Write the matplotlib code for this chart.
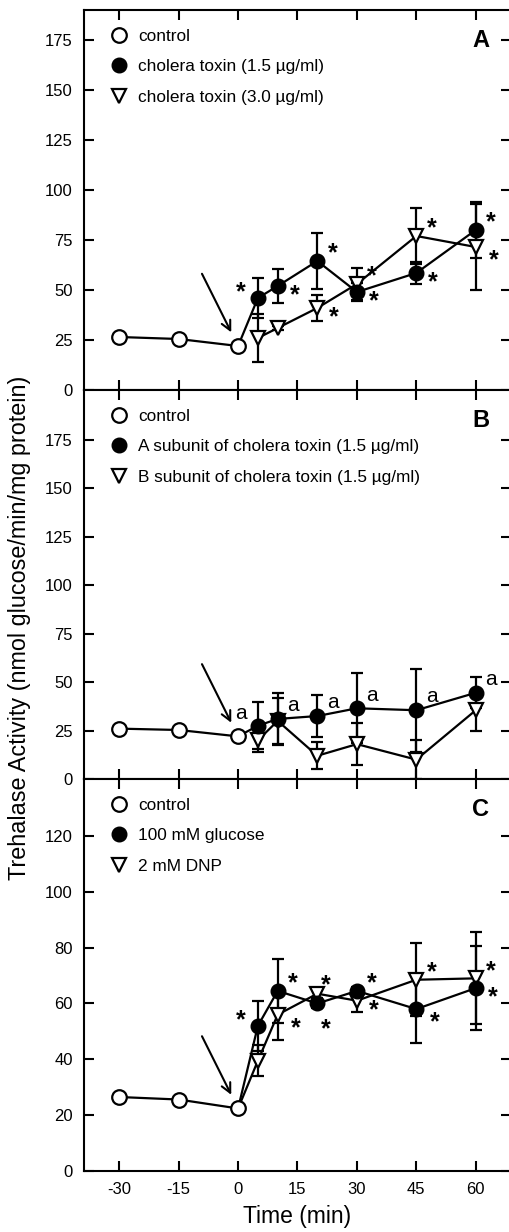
import matplotlib.pyplot as plt
from matplotlib.lines import Line2D
import numpy as np

plt.rcParams['font.family'] = ['Liberation Sans', 'DejaVu Sans']

# time points (min)
ctrl_t = [-30, -15, 0]
trt_t = [5, 10, 20, 30, 45, 60]
xticks = [-30, -15, 0, 15, 30, 45, 60]

# Panel A
a_ctrl = [26.5, 25.5, 22]
a_ct15 = [46, 52, 64.5, 49, 58.5, 80]
a_ct15_err = [10, 8.5, 14, 4.5, 5.5, 14]
a_ct30 = [26, 31, 41, 53, 77, 71.5]
a_ct30_err = [12, 1, 6.5, 8, 14, 21.5]
a_labels = ["control", "cholera toxin (1.5 \u00b5g/ml)", "cholera toxin (3.0 \u00b5g/ml)"]

# Panel B
b_ctrl = [26, 25.3, 22]
b_asub = [27.5, 31, 32.5, 36.5, 35.5, 44.5]
b_asub_err = [12, 13.5, 11, 18, 21.5, 8]
b_bsub = [20, 30, 12, 18, 10, 35.5]
b_bsub_err = [6, 12, 7, 11, 10, 10.5]
b_labels = ["control", "A subunit of cholera toxin (1.5 \u00b5g/ml)",
            "B subunit of cholera toxin (1.5 \u00b5g/ml)"]

# Panel C
c_ctrl = [26.5, 25.6, 22.4]
c_gluc = [52, 64.5, 60, 64.5, 58, 65.5]
c_gluc_err = [9, 11.5, 1.5, 1.5, 12, 15]
c_dnp = [39.5, 56, 63.5, 61, 68.5, 69]
c_dnp_err = [5.5, 9, 1.5, 4, 13, 16.5]
c_labels = ["control", "100 mM glucose", "2 mM DNP"]

# significance marks: (point index, side)
a_stars_filled = [(0, 'ul'), (1, 'r'), (2, 'ur'), (3, 'r'), (4, 'r'), (5, 'ur')]
a_stars_tri = [(2, 'r'), (3, 'ur'), (4, 'ur'), (5, 'dr')]
b_a_filled = [(0, 'ul'), (1, 'ur'), (2, 'ur'), (3, 'ur'), (4, 'ur'), (5, 'ur')]
c_stars_filled = [(0, 'ul'), (1, 'ur'), (2, 'd'), (3, 'ur'), (4, 'dr'), (5, 'r')]
c_stars_tri = [(1, 'dr'), (2, 'u'), (3, 'r'), (4, 'ur'), (5, 'ur')]

OFF = {'r': (12, -1), 'ur': (11, 11), 'ul': (-12, 10), 'dr': (13, -4),
       'd': (6, -13), 'u': (6, 12)}

W, H = 509, 1232
LW = 1.6
MS = 10.5


def panel(top, bottom, ylim, yticks, ctrl, filled, ferr, tri, terr, labels,
          letter, marks, mark_char, mark_size, tri_link=False):
    ax = fig.add_axes([84 / W, 1 - bottom / H, (511 - 84) / W, (bottom - top) / H])
    # connecting lines
    ax.plot(ctrl_t, ctrl, color='k', lw=LW, zorder=2)
    ax.plot([ctrl_t[-1]] + trt_t, [ctrl[-1]] + filled, color='k', lw=LW, zorder=2)
    if tri_link:
        ax.plot([ctrl_t[-1]] + trt_t, [ctrl[-1]] + tri, color='k', lw=LW, zorder=2)
    else:
        ax.plot(trt_t, tri, color='k', lw=LW, zorder=2)
    ax.errorbar(trt_t, filled, yerr=ferr, fmt='none', ecolor='k', elinewidth=LW,
                capsize=4.5, capthick=LW, zorder=3)
    ax.errorbar(trt_t, tri, yerr=terr, fmt='none', ecolor='k', elinewidth=LW,
                capsize=4.5, capthick=LW, zorder=3)
    ax.plot(ctrl_t, ctrl, 'o', ms=MS, mfc='white', mec='k', mew=LW, zorder=5)
    ax.plot(trt_t, tri, 'v', ms=MS, mfc='white', mec='k', mew=LW, zorder=4)
    ax.plot(trt_t, filled, 'o', ms=MS, mfc='k', mec='k', zorder=5)

    for series, lst in marks:
        for i, side in lst:
            dx, dy = OFF[side]
            if mark_char == '*':
                dy -= 4
            ax.annotate(mark_char, xy=(trt_t[i], series[i]), xytext=(dx, dy),
                        textcoords='offset points', ha='center',
                        va='center_baseline', fontsize=mark_size,
                        fontweight='bold' if mark_char == '*' else 'normal',
                        zorder=6)

    # arrow at time of addition
    ax.annotate('', xy=(0, ctrl[-1]), xytext=(-26, 52), textcoords='offset points',
                arrowprops=dict(arrowstyle='->', lw=1.5, color='k',
                                shrinkA=0, shrinkB=11, mutation_scale=17))

    ax.set_xlim(-38.9, 68.9)
    ax.set_ylim(*ylim)
    ax.set_xticks(xticks)
    ax.set_yticks(yticks)
    ax.tick_params(direction='in', length=7, width=1.5, top=True, right=True,
                   labelsize=12, pad=8)
    for s in ax.spines.values():
        s.set_linewidth(1.5)

    handles = [
        Line2D([0], [0], marker='o', ls='none', ms=MS, mfc='white', mec='k', mew=LW),
        Line2D([0], [0], marker='o', ls='none', ms=MS, mfc='k', mec='k'),
        Line2D([0], [0], marker='v', ls='none', ms=MS, mfc='white', mec='k', mew=LW),
    ]
    ax.legend(handles, labels, loc='upper left',
              bbox_to_anchor=(13 / 427, 1 - 5 / (bottom - top)),
              frameon=False, fontsize=12.4, handlelength=1.0, handletextpad=0.6,
              labelspacing=0.9, borderaxespad=0.3, borderpad=0.5)
    ax.text(0.929, 1 - 31 / (bottom - top), letter, transform=ax.transAxes,
            ha='center', va='center', fontsize=17, fontweight='bold')
    return ax


fig = plt.figure(figsize=(W / 100, H / 100), dpi=100)

axA = panel(10, 390, (0, 190), np.arange(0, 176, 25), a_ctrl, a_ct15, a_ct15_err,
            a_ct30, a_ct30_err, a_labels, 'A',
            [(a_ct15, a_stars_filled), (a_ct30, a_stars_tri)], '*', 18)
axB = panel(390, 779, (0, 200.8), np.arange(0, 176, 25), b_ctrl, b_asub, b_asub_err,
            b_bsub, b_bsub_err, b_labels, 'B',
            [(b_asub, b_a_filled)], 'a', 15)
axC = panel(779, 1171, (0, 140.4), np.arange(0, 121, 20), c_ctrl, c_gluc, c_gluc_err,
            c_dnp, c_dnp_err, c_labels, 'C',
            [(c_gluc, c_stars_filled), (c_dnp, c_stars_tri)], '*', 18, tri_link=True)

axA.tick_params(labelbottom=False)
axB.tick_params(labelbottom=False)
axC.set_xticklabels([str(t) for t in xticks])
axC.set_xlabel('Time (min)', fontsize=16.5, labelpad=6)

fig.text(20 / W, 1 - 628 / H, 'Trehalase Activity (nmol glucose/min/mg protein)',
         rotation=90, ha='center', va='center', fontsize=16.8)

fig.savefig('out.png', dpi=100)
